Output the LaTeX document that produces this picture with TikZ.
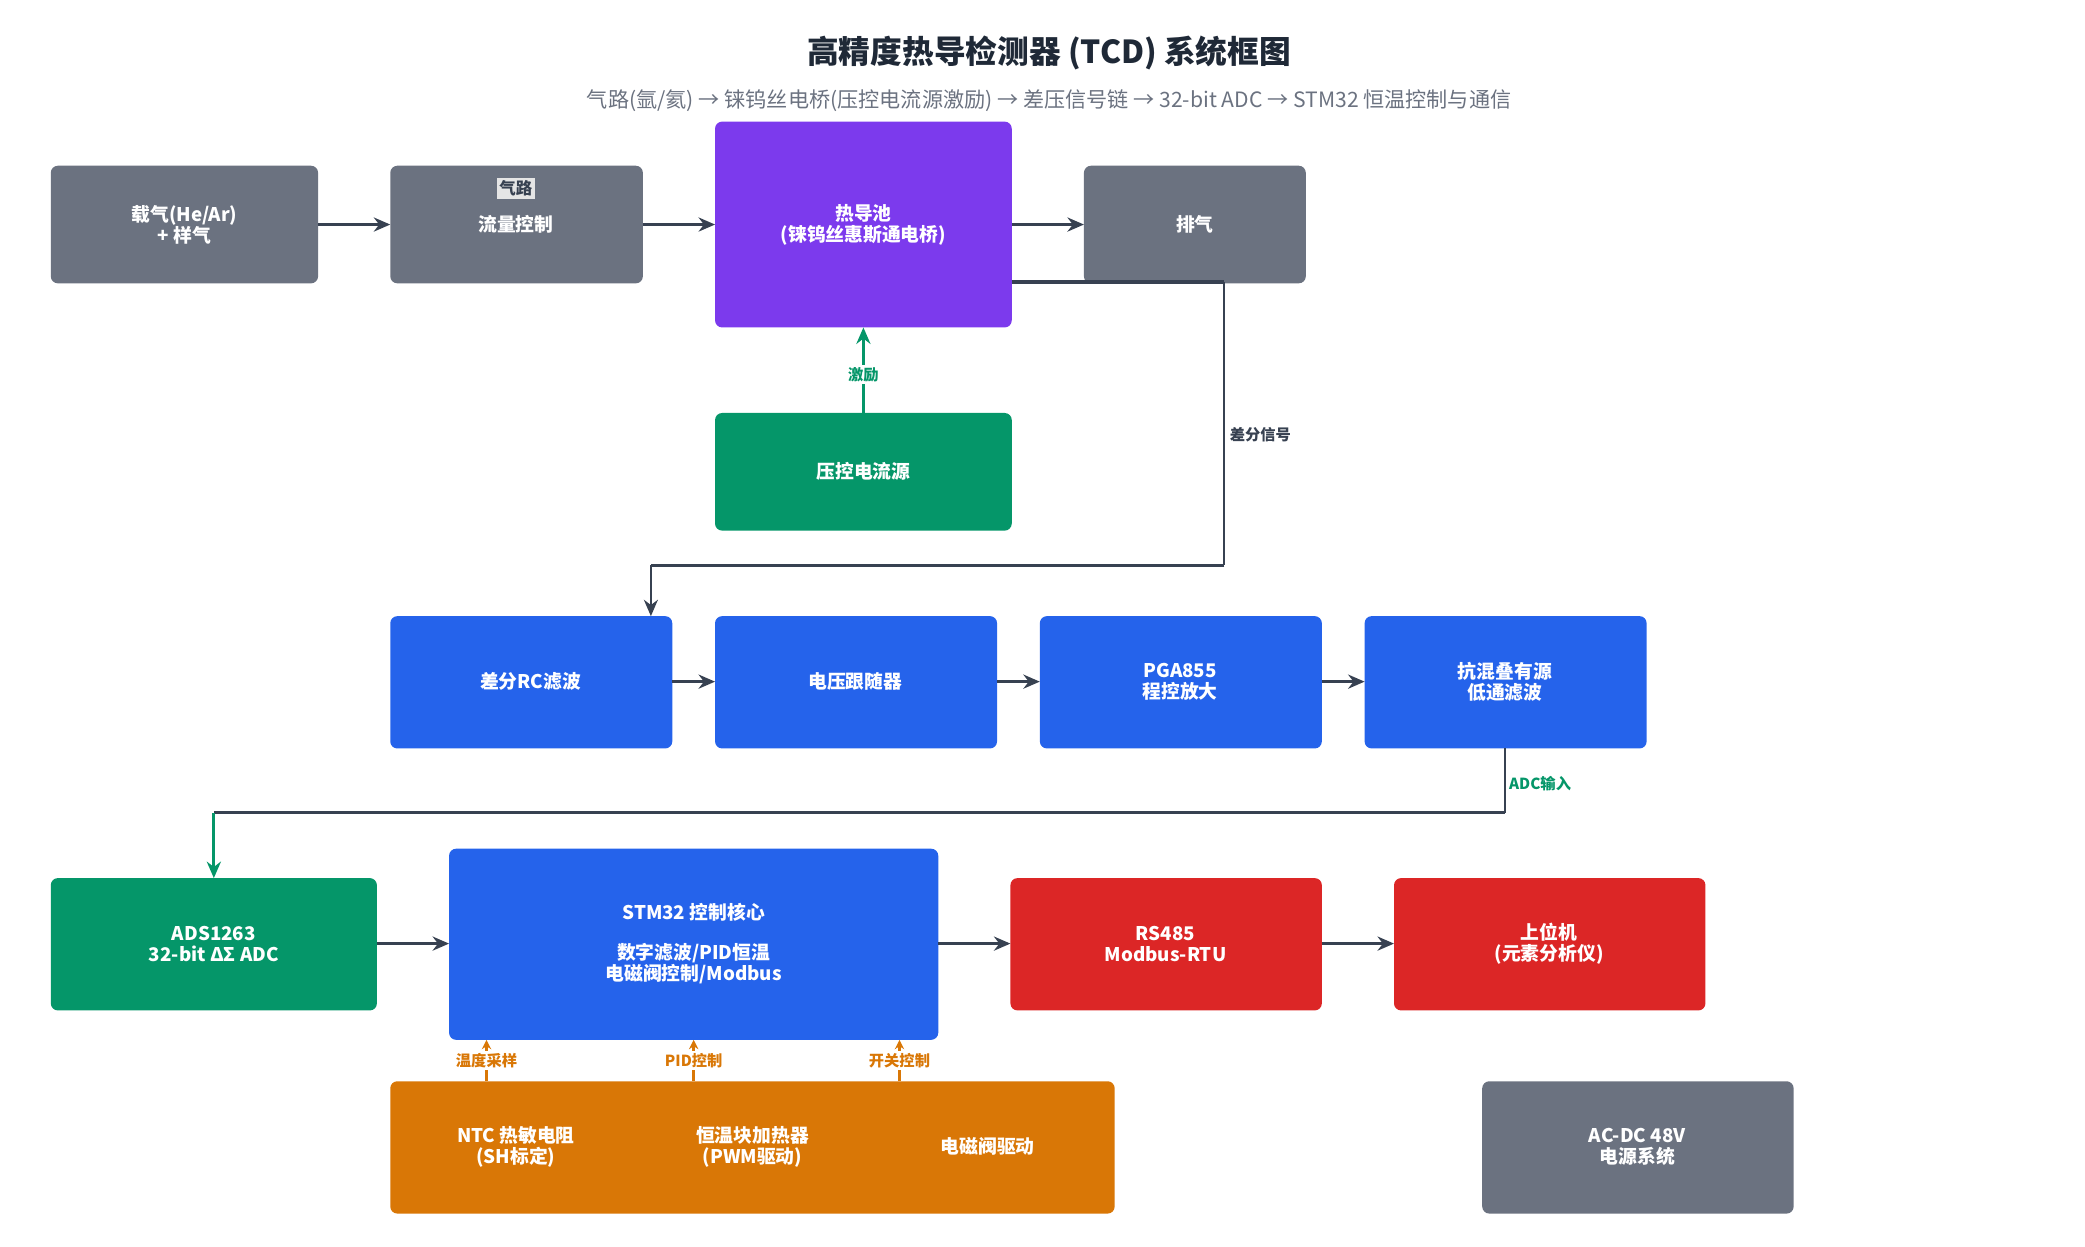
\documentclass[tikz,border=0pt]{standalone}
\usepackage{fontspec}
\setmainfont{Noto Sans CJK SC}
\usetikzlibrary{arrows.meta}
\definecolor{ink}{HTML}{374151}
\definecolor{titleink}{HTML}{1F2937}
\definecolor{greyc}{HTML}{6B7280}
\definecolor{purplec}{HTML}{7C3AED}
\definecolor{greenc}{HTML}{059669}
\definecolor{bluec}{HTML}{2563EB}
\definecolor{redc}{HTML}{DC2626}
\definecolor{orangec}{HTML}{D97706}
\tikzset{
  blk/.style={fill=#1,rounded corners=3pt,text=white,font=\fontsize{8}{9}\selectfont\bfseries,align=center},
  flow/.style={draw=ink,line width=1.4pt,-{Stealth[length=7pt,width=6pt]}},
  lbl/.style={font=\fontsize{6.5}{7}\selectfont\bfseries,fill=white,inner sep=1pt},
}
\begin{document}
\begin{tikzpicture}[x=0.02cm,y=-0.02cm]
  \useasboundingbox (0,0) rectangle (1560,933);
  % Title
  \node[text=titleink,font=\fontsize{13.5}{15}\selectfont\bfseries] (title) at (785,40) {高精度热导检测器 (TCD) 系统框图};
  \node[text=greyc,font=\fontsize{9}{10}\selectfont] (sub) at (785,75) {气路(氩/氦) → 铼钨丝电桥(压控电流源激励) → 差压信号链 → 32-bit ADC → STM32 恒温控制与通信};
  % Gas path
  \path[blk=greyc]   (38,124) rectangle (238,212);
  \node[blk=greyc] (carrier) at (138,168) {载气(He/Ar)\\+ 样气};
  \path[blk=greyc]   (292,124) rectangle (481,212);
  \node[blk=greyc] (flowctl) at (386,168) {流量控制};
  \node[fill=gray!20,text=ink,font=\fontsize{7}{8}\selectfont\bfseries,inner sep=1pt] (tag) at (386,141) {气路};
  \path[blk=purplec] (535,91) rectangle (757,245);
  \node[blk=purplec] (cell) at (646,168) {热导池\\(铼钨丝惠斯通电桥)};
  \path[blk=greyc]   (811,124) rectangle (977,212);
  \node[blk=greyc] (vent) at (894,168) {排气};
  \path[blk=greenc]  (535,309) rectangle (757,397);
  \node[blk=greenc] (source) at (646,353) {压控电流源};
  % Signal chain
  \path[blk=bluec] (292,461) rectangle (503,560);
  \node[blk=bluec] (rc) at (397,510) {差分RC滤波};
  \path[blk=bluec] (535,461) rectangle (746,560);
  \node[blk=bluec] (buf) at (640,510) {电压跟随器};
  \path[blk=bluec] (778,461) rectangle (989,560);
  \node[blk=bluec] (pga) at (883,510) {PGA855\\程控放大};
  \path[blk=bluec] (1021,461) rectangle (1232,560);
  \node[blk=bluec] (aaf) at (1126,510) {抗混叠有源\\低通滤波};
  % Control and comms
  \path[blk=greenc] (38,657) rectangle (282,756);
  \node[blk=greenc] (adc) at (160,706) {ADS1263\\32-bit ΔΣ ADC};
  \path[blk=bluec] (336,635) rectangle (702,778);
  \node[blk=bluec] (mcu) at (519,706) {STM32 控制核心\\[8pt]数字滤波/PID恒温\\电磁阀控制/Modbus};
  \path[blk=redc] (756,657) rectangle (989,756);
  \node[blk=redc] (rs485) at (872,706) {RS485\\Modbus-RTU};
  \path[blk=redc] (1043,657) rectangle (1276,756);
  \node[blk=redc] (host) at (1159,706) {上位机\\(元素分析仪)};
  \path[blk=orangec] (292,809) rectangle (834,908);
  \node[blk=orangec] (ntc) at (386,858) {NTC 热敏电阻\\(SH标定)};
  \node[blk=orangec] (heater) at (563,858) {恒温块加热器\\(PWM驱动)};
  \node[blk=orangec] (valve) at (739,858) {电磁阀驱动};
  \path[blk=greyc] (1109,809) rectangle (1342,908);
  \node[blk=greyc] (power) at (1225,858) {AC-DC 48V\\电源系统};
  % Coordinates for routed connectors
  \coordinate (cellout) at (757,211);
  \coordinate (rcin) at (487,461);
  \coordinate (aafout) at (1126,560);
  \coordinate (adcin) at (160,657);
  % Connectors
  \draw[flow] (238,168) -- (292,168);
  \draw[flow] (481,168) -- (535,168);
  \draw[flow] (757,168) -- (811,168);
  \draw[draw=greenc,line width=1.2pt,-{Stealth[length=7pt,width=6pt]}] (646,309) -- (646,245)
    node[pos=0.45,text=greenc,lbl] {激励};
  \draw[draw=ink,line width=1.4pt] (cellout) -- (916,211);
  \draw[draw=ink,line width=0.8pt] (916,211) -- (916,423);
  \draw[draw=ink,line width=1.4pt] (916,423) -- (487,423);
  \draw[flow,line width=0.8pt] (487,423) -- (rcin);
  \node[text=ink,lbl,anchor=west] (difflbl) at (918,325) {差分信号};
  \draw[flow] (503,510) -- (535,510);
  \draw[flow] (746,510) -- (778,510);
  \draw[flow] (989,510) -- (1021,510);
  \draw[draw=ink,line width=0.8pt] (aafout) -- (1126,608);
  \draw[draw=ink,line width=1.4pt] (1126,608) -- (160,608);
  \draw[draw=greenc,line width=1.2pt,-{Stealth[length=7pt,width=6pt]}] (160,608) -- (adcin);
  \node[text=greenc,lbl,anchor=west] (adclbl) at (1127,586) {ADC输入};
  \draw[flow] (282,706) -- (336,706);
  \draw[flow] (702,706) -- (756,706);
  \draw[flow] (989,706) -- (1043,706);
  \foreach \x/\t in {364/温度采样,519/PID控制,673/开关控制}
    \draw[draw=orangec,line width=1pt,-{Stealth[length=4pt,width=4pt]}] (\x,809) -- (\x,778)
      node[midway,text=orangec,lbl] {\t};
\end{tikzpicture}
\end{document}
